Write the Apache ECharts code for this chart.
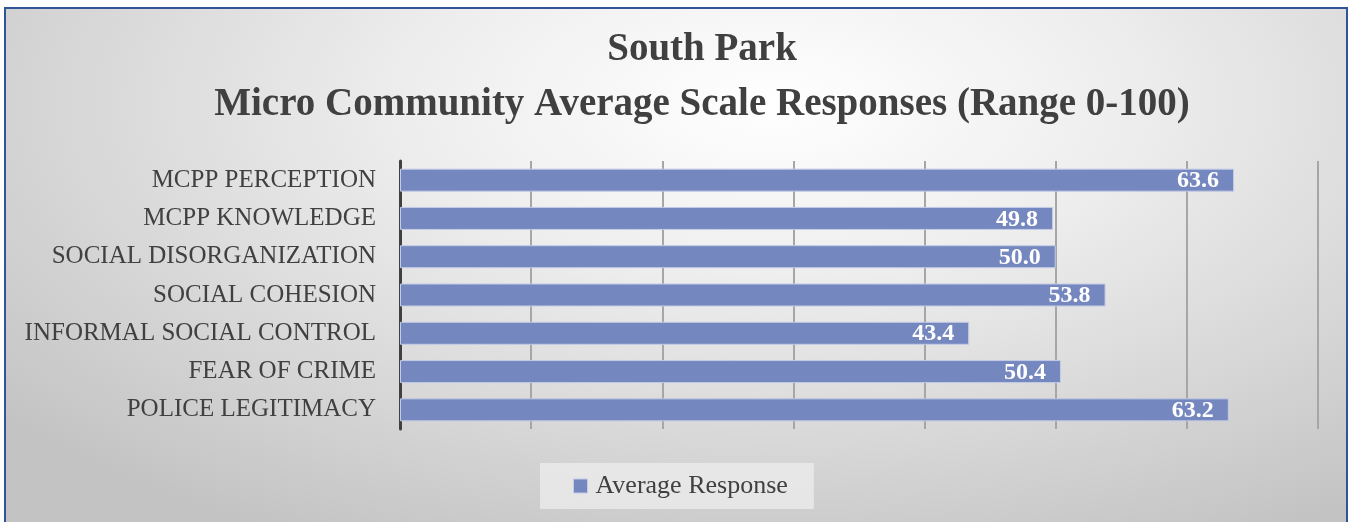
<!DOCTYPE html>
<html>
<head>
<meta charset="utf-8">
<script src="https://cdn.jsdelivr.net/npm/echarts@6/dist/echarts.min.js"></script>
<style>
  html, body { margin: 0; padding: 0; background: #fff; }
  #chart {
    position: absolute; left: 4px; top: 7px;
    width: 1340px; height: 520px;
    border: 2px solid #2f5597; border-bottom: none;
    background: radial-gradient(ellipse 75% 95% at 57% 18%, #ffffff 0%, #eeeeee 35%, #c3c3c3 100%);
  }
</style>
</head>
<body>
<div id="chart"></div>
<script>
// categories top to bottom
var categories = [
  'MCPP PERCEPTION',
  'MCPP KNOWLEDGE',
  'SOCIAL DISORGANIZATION',
  'SOCIAL COHESION',
  'INFORMAL SOCIAL CONTROL',
  'FEAR OF CRIME',
  'POLICE LEGITIMACY'
]
var averageResponse = [63.6, 49.8, 50.0, 53.8, 43.4, 50.4, 63.2]

var serif = '"Liberation Serif", "DejaVu Serif", serif'
var chart = echarts.init(document.getElementById('chart'))
chart.setOption({
  backgroundColor: 'transparent',
  animation: false,
  title: {
    text: 'South Park\nMicro Community Average Scale Responses (Range 0-100)',
    left: 691,
    textAlign: 'center',
    top: 8,
    textStyle: {
      fontFamily: serif,
      fontWeight: 'bold',
      fontSize: 39,
      lineHeight: 55,
      color: '#404040'
    }
  },
  legend: {
    bottom: 20,
    left: 534,
    itemWidth: 14,
    itemHeight: 14,
    padding: [10, 26, 10, 33],
    backgroundColor: 'rgba(240,240,240,0.7)',
    icon: 'rect',
    itemStyle: { borderColor: '#c3cbe6', borderWidth: 1 },
    textStyle: { fontFamily: serif, fontSize: 26, color: '#404040', padding: [0, 0, 0, 3] },
    data: ['Average Response']
  },
  grid: {
    left: 394,
    right: 28,
    top: 152,
    bottom: 100,
    containLabel: false
  },
  xAxis: {
    type: 'value',
    min: 0,
    max: 70,
    interval: 10,
    axisLabel: { show: false },
    axisTick: { show: false },
    axisLine: { show: false },
    splitLine: { show: true, lineStyle: { color: '#a6a6a6', width: 2 } }
  },
  yAxis: {
    type: 'category',
    inverse: true,
    data: categories,
    axisTick: { show: false },
    axisLine: { show: true, lineStyle: { color: '#404040', width: 3 } },
    axisLabel: {
      fontFamily: serif,
      fontSize: 25,
      color: '#404040',
      margin: 24
    }
  },
  series: [{
    name: 'Average Response',
    type: 'bar',
    data: averageResponse,
    barWidth: 23,
    itemStyle: {
      color: '#7587bf',
      borderColor: '#c3cbe6',
      borderWidth: 1
    },
    label: {
      show: true,
      position: 'insideRight',
      offset: [-10, 1],
      formatter: function (p) { return p.value.toFixed(1) },
      fontFamily: serif,
      fontWeight: 'bold',
      fontSize: 24,
      color: '#ffffff'
    }
  }]
})
</script>
</body>
</html>
